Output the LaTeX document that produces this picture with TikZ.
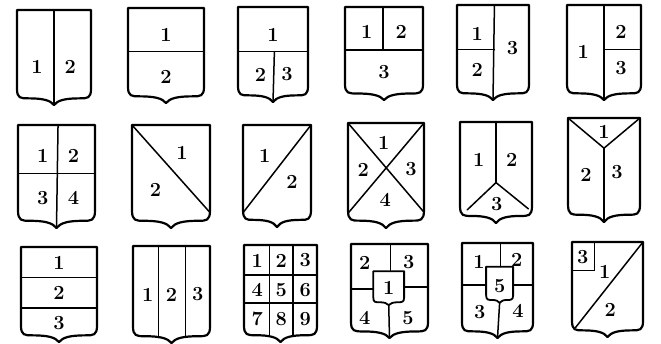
\documentclass[tikz,border=0pt]{standalone}
\begin{document}
\begin{tikzpicture}[x=1pt,y=-1pt,
  outline/.style={line width=2.2pt,line join=round},
  inner/.style={line width=1.5pt,line cap=round},
  num/.style={font=\fontsize{20}{20}\selectfont\bfseries,inner sep=0pt}]
\useasboundingbox (0,0) rectangle (661,344);
\newcommand\shield{\draw[outline] (0,0) -- (1,0) -- (1,0.83) .. controls (1,0.93) and (0.95,0.93) .. (0.85,0.93) .. controls (0.65,0.93) and (0.55,0.95) .. (0.5,1) .. controls (0.45,0.95) and (0.35,0.93) .. (0.15,0.93) .. controls (0.05,0.93) and (0,0.93) .. (0,0.83) -- cycle;}
% ---- Row 1 ----
\begin{scope}[shift={(17,10)},xscale=74,yscale=95]
\shield
\draw[inner] (0.5,0) -- (0.5,1);
\node[num] (a1) at (0.27,0.6) {1};
\node[num] (a2) at (0.72,0.6) {2};
\end{scope}
\begin{scope}[shift={(128,8)},xscale=76,yscale=95]
\shield
\draw[inner] (0,0.46) -- (1,0.46);
\node[num] (b1) at (0.5,0.28) {1};
\node[num] (b2) at (0.5,0.73) {2};
\end{scope}
\begin{scope}[shift={(238,7)},xscale=70,yscale=95]
\shield
\draw[inner] (0,0.47) -- (1,0.47);
\draw[inner] (0.52,0.47) -- (0.5,1);
\node[num] (c1) at (0.5,0.29) {1};
\node[num] (c2) at (0.32,0.71) {2};
\node[num] (c3) at (0.7,0.71) {3};
\end{scope}
\begin{scope}[shift={(345,7)},xscale=78,yscale=93]
\shield
\draw[inner] (0,0.46) -- (1,0.46);
\draw[inner] (0.49,0) -- (0.49,0.46);
\node[num] (d1) at (0.28,0.27) {1};
\node[num] (d2) at (0.72,0.27) {2};
\node[num] (d3) at (0.5,0.7) {3};
\end{scope}
\begin{scope}[shift={(457,5)},xscale=72,yscale=95]
\shield
\draw[inner] (0.52,0) -- (0.5,1);
\draw[inner] (0,0.47) -- (0.52,0.47);
\node[num] (e1) at (0.28,0.3) {1};
\node[num] (e2) at (0.28,0.68) {2};
\node[num] (e3) at (0.77,0.45) {3};
\end{scope}
\begin{scope}[shift={(567,5)},xscale=74,yscale=95]
\shield
\draw[inner] (0.5,0) -- (0.5,1);
\draw[inner] (0.5,0.47) -- (1,0.47);
\node[num] (f1) at (0.22,0.49) {1};
\node[num] (f2) at (0.73,0.28) {2};
\node[num] (f3) at (0.73,0.66) {3};
\end{scope}
% ---- Row 2 ----
\begin{scope}[shift={(18,125)},xscale=77,yscale=103]
\shield
\draw[inner] (0,0.47) -- (1,0.47);
\draw[inner] (0.52,0) -- (0.5,1);
\node[num] (g1) at (0.32,0.3) {1};
\node[num] (g2) at (0.72,0.3) {2};
\node[num] (g3) at (0.32,0.71) {3};
\node[num] (g4) at (0.72,0.71) {4};
\end{scope}
\begin{scope}[shift={(132,125)},xscale=78,yscale=103]
\shield
\draw[inner] (0,0) -- (1,0.85);
\node[num] (h1) at (0.64,0.27) {1};
\node[num] (h2) at (0.3,0.63) {2};
\end{scope}
\begin{scope}[shift={(243,125)},xscale=68,yscale=102]
\shield
\draw[inner] (1,0) -- (0,0.86);
\node[num] (i1) at (0.32,0.3) {1};
\node[num] (i2) at (0.72,0.56) {2};
\end{scope}
\begin{scope}[shift={(348,123)},xscale=76,yscale=105]
\shield
\draw[inner] (0,0) -- (1,0.85);
\draw[inner] (1,0) -- (0,0.86);
\node[num] (j1) at (0.47,0.19) {1};
\node[num] (j2) at (0.2,0.45) {2};
\node[num] (j3) at (0.83,0.44) {3};
\node[num] (j4) at (0.49,0.73) {4};
\end{scope}
\begin{scope}[shift={(460,122)},xscale=72,yscale=101]
\shield
\draw[inner] (0.5,0) -- (0.5,0.6);
\draw[inner] (0.1,0.87) -- (0.5,0.6) -- (0.95,0.86);
\node[num] (k1) at (0.26,0.38) {1};
\node[num] (k2) at (0.72,0.38) {2};
\node[num] (k3) at (0.51,0.81) {3};
\end{scope}
\begin{scope}[shift={(568,118)},xscale=72,yscale=104]
\shield
\draw[inner] (0,0) -- (0.5,0.29) -- (1,0);
\draw[inner] (0.5,0.29) -- (0.5,1);
\node[num] (l1) at (0.5,0.13) {1};
\node[num] (l2) at (0.25,0.55) {2};
\node[num] (l3) at (0.68,0.52) {3};
\end{scope}
% ---- Row 3 ----
\begin{scope}[shift={(21,247)},xscale=76,yscale=95]
\shield
\draw[inner] (0,0.32) -- (1,0.32);
\draw[inner] (0,0.64) -- (1,0.64);
\node[num] (m1) at (0.5,0.17) {1};
\node[num] (m2) at (0.5,0.48) {2};
\node[num] (m3) at (0.5,0.8) {3};
\end{scope}
\begin{scope}[shift={(133,246)},xscale=77,yscale=97]
\shield
\draw[inner] (0.33,0) -- (0.33,0.945);
\draw[inner] (0.68,0) -- (0.68,0.935);
\node[num] (n1) at (0.19,0.5) {1};
\node[num] (n2) at (0.5,0.5) {2};
\node[num] (n3) at (0.84,0.5) {3};
\end{scope}
\begin{scope}[shift={(244,245)},xscale=73,yscale=97]
\shield
\draw[inner] (0.35,0) -- (0.35,0.94);
\draw[inner] (0.67,0) -- (0.67,0.935);
\draw[inner] (0,0.31) -- (1,0.31);
\draw[inner] (0,0.6) -- (1,0.6);
\node[num] (o1) at (0.18,0.16) {1};
\node[num] (o2) at (0.51,0.16) {2};
\node[num] (o3) at (0.84,0.16) {3};
\node[num] (o4) at (0.18,0.46) {4};
\node[num] (o5) at (0.51,0.46) {5};
\node[num] (o6) at (0.84,0.46) {6};
\node[num] (o7) at (0.18,0.76) {7};
\node[num] (o8) at (0.51,0.76) {8};
\node[num] (o9) at (0.84,0.76) {9};
\end{scope}
\begin{scope}[shift={(351,244)},xscale=77,yscale=94]
\shield
\draw[outline,line width=1.8pt] (0.29,0.29) -- (0.69,0.29) -- (0.69,0.57) .. controls (0.69,0.62) and (0.66,0.62) .. (0.6,0.62) .. controls (0.55,0.62) and (0.51,0.63) .. (0.49,0.65) .. controls (0.47,0.63) and (0.43,0.62) .. (0.38,0.62) .. controls (0.31,0.62) and (0.29,0.62) .. (0.29,0.57) -- cycle;
\draw[inner] (0.51,0) -- (0.51,0.29);
\draw[inner] (0,0.48) -- (0.29,0.48);
\draw[inner] (0.69,0.46) -- (1,0.46);
\draw[inner] (0.49,0.65) -- (0.5,1);
\node[num] (p2) at (0.18,0.2) {2};
\node[num] (p3) at (0.75,0.19) {3};
\node[num] (p1) at (0.49,0.47) {1};
\node[num] (p4) at (0.18,0.79) {4};
\node[num] (p5) at (0.74,0.79) {5};
\end{scope}
\begin{scope}[shift={(462,243)},xscale=71,yscale=95]
\shield
\draw[outline,line width=1.8pt] (0.34,0.25) -- (0.72,0.25) -- (0.72,0.55) .. controls (0.72,0.6) and (0.69,0.6) .. (0.63,0.6) .. controls (0.58,0.6) and (0.55,0.61) .. (0.53,0.63) .. controls (0.51,0.61) and (0.48,0.6) .. (0.43,0.6) .. controls (0.37,0.6) and (0.34,0.6) .. (0.34,0.55) -- cycle;
\draw[inner] (0.54,0) -- (0.54,0.25);
\draw[inner] (0,0.44) -- (0.34,0.44);
\draw[inner] (0.72,0.44) -- (1,0.44);
\draw[inner] (0.53,0.63) -- (0.5,1);
\node[num] (q1) at (0.24,0.2) {1};
\node[num] (q2) at (0.77,0.18) {2};
\node[num] (q5) at (0.53,0.45) {5};
\node[num] (q3) at (0.25,0.73) {3};
\node[num] (q4) at (0.79,0.71) {4};
\end{scope}
\begin{scope}[shift={(572,242)},xscale=71,yscale=95]
\shield
\draw[inner] (1,0) -- (0.05,0.9);
\draw[inner] (0,0.3) -- (0.32,0.3) -- (0.32,0);
\node[num] (r3) at (0.15,0.16) {3};
\node[num] (r1) at (0.46,0.31) {1};
\node[num] (r2) at (0.54,0.72) {2};
\end{scope}
\end{tikzpicture}
\end{document}
